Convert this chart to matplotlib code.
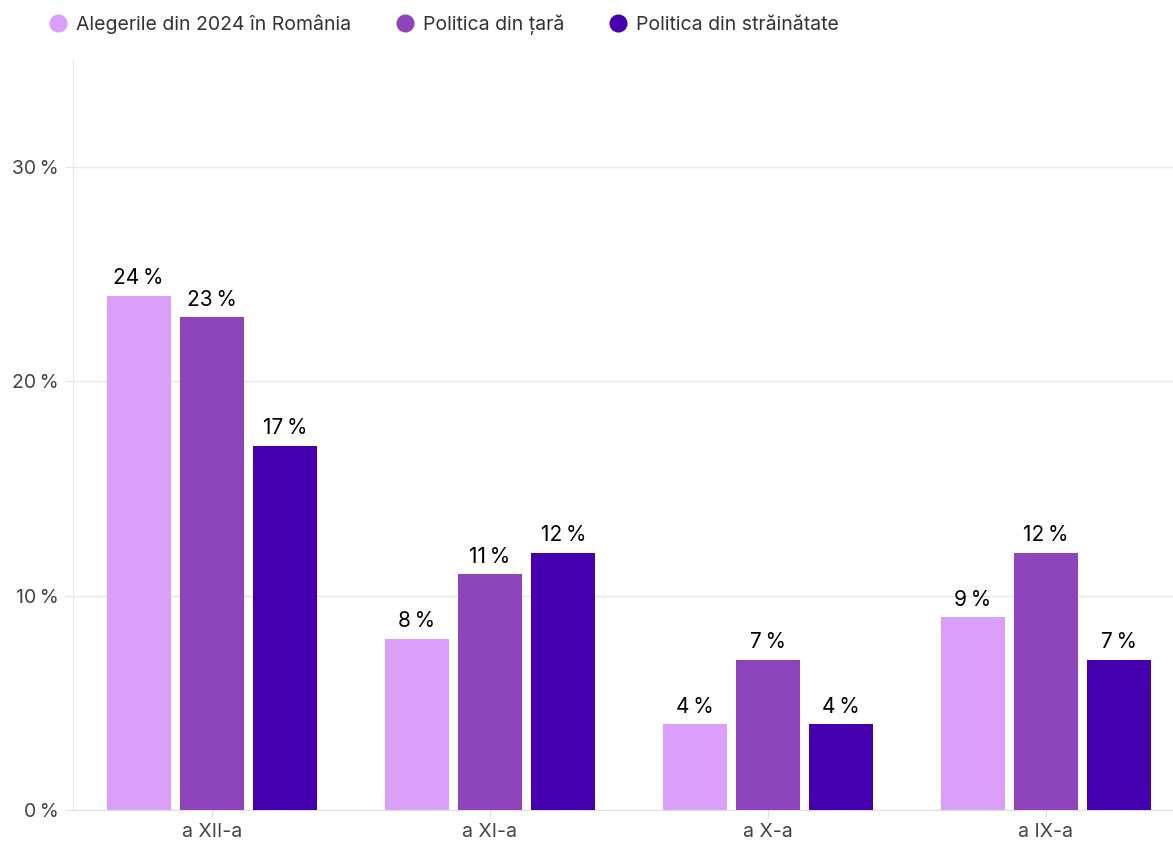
import numpy as np
import matplotlib.pyplot as plt
from matplotlib.lines import Line2D

plt.rcParams['font.family'] = ['Inter', 'DejaVu Sans']

# data
categories = ['a XII-a', 'a XI-a', 'a X-a', 'a IX-a']
series_names = ['Alegerile din 2024 în România', 'Politica din țară', 'Politica din străinătate']
alegeri = [24, 8, 4, 9]
politica_tara = [23, 11, 7, 12]
politica_strain = [17, 12, 4, 7]
colors = ['#DA9FF9', '#8E45BB', '#4400AE']

fig = plt.figure(figsize=(11.73, 8.43), dpi=100)
ax = fig.add_axes([73 / 1173, 33 / 843, 1100 / 1173, 750 / 843])

x = np.arange(len(categories))
width = 0.23
offset = 0.264
for i, (vals, col) in enumerate(zip([alegeri, politica_tara, politica_strain], colors)):
    bars = ax.bar(x + (i - 1) * offset, vals, width, color=col, zorder=3)
    for b, v in zip(bars, vals):
        ax.text(b.get_x() + b.get_width() / 2, v + 0.35, f'{v}\u202f%',
                ha='center', va='bottom', fontsize=15, color='#000000')

ax.set_xlim(-0.5, 3.457)
ax.set_ylim(0, 35)
ax.set_yticks([0, 10, 20, 30])
ax.set_yticklabels([f'{t}\u202f%' for t in [0, 10, 20, 30]])
ax.set_xticks(x)
ax.set_xticklabels(categories)
ax.grid(axis='y', color='#e8e8e8', linewidth=1, zorder=0)
for s in ['top', 'right']:
    ax.spines[s].set_visible(False)
ax.spines['left'].set_color('#e8e8e8')
ax.spines['bottom'].set_color('#e0e0e0')
ax.tick_params(axis='both', colors='#e0e0e0', labelcolor='#444444', labelsize=14, length=6)
ax.tick_params(axis='y', pad=4)

handles = [Line2D([], [], marker='o', linestyle='', markersize=12, color=c) for c in colors]
fig.legend(handles, series_names, loc='upper left', bbox_to_anchor=(0.018, 1.004), ncol=3,
           frameon=False, fontsize=14, handletextpad=-0.1, columnspacing=1.8,
           labelcolor='#333333')

fig.savefig('out.png', dpi=100)
